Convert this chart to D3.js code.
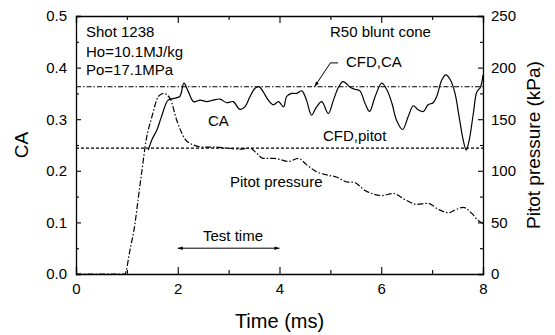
<!DOCTYPE html>
<html>
<head>
<meta charset="utf-8">
<script src="https://cdn.jsdelivr.net/npm/d3@7"></script>
<style>
  html, body { margin: 0; padding: 0; background: #fff; }
  svg { display: block; font-family: "Liberation Sans", Arial, sans-serif; }
</style>
</head>
<body>
<svg id="chart" width="555" height="335"></svg>
<script>
// Axial force coefficient (CA) measured during the shot
const caTime  = [1.42, 1.50, 1.59, 1.68, 1.81, 1.91, 2.04, 2.12, 2.21, 2.31, 2.44, 2.57, 2.70, 2.83, 2.96, 3.09, 3.22, 3.32, 3.42, 3.52, 3.60, 3.68, 3.78, 3.88, 3.98, 4.08, 4.14, 4.24, 4.34, 4.44, 4.53, 4.63, 4.73, 4.83, 4.96, 5.06, 5.16, 5.25, 5.39, 5.48, 5.58, 5.68, 5.77, 5.88, 6.01, 6.11, 6.21, 6.30, 6.42, 6.53, 6.63, 6.73, 6.83, 6.92, 7.02, 7.09, 7.19, 7.27, 7.36, 7.45, 7.53, 7.61, 7.67, 7.73, 7.81, 7.88, 7.95, 8.00];
const caValue = [0.240, 0.262, 0.279, 0.305, 0.337, 0.340, 0.344, 0.370, 0.353, 0.334, 0.337, 0.334, 0.337, 0.339, 0.332, 0.334, 0.319, 0.324, 0.344, 0.360, 0.363, 0.353, 0.337, 0.328, 0.334, 0.324, 0.344, 0.350, 0.350, 0.355, 0.337, 0.308, 0.324, 0.334, 0.311, 0.337, 0.362, 0.373, 0.362, 0.358, 0.355, 0.331, 0.315, 0.344, 0.370, 0.357, 0.331, 0.298, 0.280, 0.305, 0.326, 0.318, 0.315, 0.328, 0.332, 0.344, 0.376, 0.386, 0.376, 0.350, 0.305, 0.260, 0.240, 0.260, 0.311, 0.353, 0.362, 0.386];

// Measured pitot pressure (kPa)
const pitotTime  = [0.00, 0.50, 0.96, 1.06, 1.16, 1.22, 1.29, 1.38, 1.49, 1.62, 1.72, 1.85, 1.98, 2.14, 2.31, 2.50, 2.70, 2.96, 3.22, 3.42, 3.55, 3.68, 3.88, 4.01, 4.17, 4.37, 4.53, 4.73, 4.93, 5.12, 5.35, 5.45, 5.68, 6.01, 6.24, 6.47, 6.70, 6.92, 7.12, 7.32, 7.45, 7.61, 7.78, 7.91, 8.00];
const pitotValue = [0, 0, 0, 23, 49, 72, 98, 130, 152, 172, 175, 170, 149, 131, 125, 123, 123, 122, 121, 122, 117, 112, 112, 111, 109, 112, 106, 99, 96, 94, 89, 89, 81, 76, 78, 72, 67.5, 68.5, 62.7, 59.4, 62, 64.6, 58.8, 51.6, 49];

// CFD reference levels
const cfdCA = 0.363;
const cfdPitot = 122;

// Axis ticks
const timeTicks = [0, 2, 4, 6, 8];
const timeMinor = [1, 3, 5, 7];
const caTicks = [0.0, 0.1, 0.2, 0.3, 0.4, 0.5];
const caMinor = [0.05, 0.15, 0.25, 0.35, 0.45];
const pTicks = [0, 50, 100, 150, 200, 250];
const pMinor = [25, 75, 125, 175, 225];

// Test time window (ms)
const testWindow = [2, 4];

const svg = d3.select("#chart");
const margin = { top: 16, right: 72, bottom: 61, left: 76 };
const W = 555, H = 335;
const iw = W - margin.left - margin.right;
const ih = H - margin.top - margin.bottom;

const x = d3.scaleLinear().domain([0, 8]).range([margin.left, margin.left + iw]);
const yCA = d3.scaleLinear().domain([0, 0.5]).range([margin.top + ih, margin.top]);
const yP = d3.scaleLinear().domain([0, 250]).range([margin.top + ih, margin.top]);

const tickFont = "15px";

function styleAxis(g) {
  g.selectAll("path").attr("stroke", "#000").attr("stroke-width", 1.3);
  g.selectAll("line").attr("stroke", "#000").attr("stroke-width", 1.1);
  g.selectAll("text").attr("fill", "#000").style("font-size", tickFont)
    .style("font-family", '"Liberation Sans", Arial, sans-serif');
}

// Bottom axis
svg.append("g").attr("transform", `translate(0,${yCA(0)})`)
  .call(d3.axisBottom(x).tickValues(timeTicks).tickFormat(d3.format("d")).tickSize(-7).tickPadding(9))
  .call(styleAxis);
svg.append("g").attr("transform", `translate(0,${yCA(0)})`)
  .call(d3.axisBottom(x).tickValues(timeMinor).tickFormat("").tickSize(-4))
  .call(styleAxis).select("path").remove();

// Top axis (ticks only)
svg.append("g").attr("transform", `translate(0,${yCA(0.5)})`)
  .call(d3.axisTop(x).tickValues(timeTicks).tickFormat("").tickSize(-7))
  .call(styleAxis);
svg.append("g").attr("transform", `translate(0,${yCA(0.5)})`)
  .call(d3.axisTop(x).tickValues(timeMinor).tickFormat("").tickSize(-4))
  .call(styleAxis).select("path").remove();

// Left axis (CA)
svg.append("g").attr("transform", `translate(${x(0)},0)`)
  .call(d3.axisLeft(yCA).tickValues(caTicks).tickFormat(d3.format(".1f")).tickSize(-5).tickPadding(9))
  .call(styleAxis);
svg.append("g").attr("transform", `translate(${x(0)},0)`)
  .call(d3.axisLeft(yCA).tickValues(caMinor).tickFormat("").tickSize(-3))
  .call(styleAxis).select("path").remove();

// Right axis (pitot pressure)
svg.append("g").attr("transform", `translate(${x(8)},0)`)
  .call(d3.axisRight(yP).tickValues(pTicks).tickFormat(d3.format("d")).tickSize(-5).tickPadding(8))
  .call(styleAxis);
svg.append("g").attr("transform", `translate(${x(8)},0)`)
  .call(d3.axisRight(yP).tickValues(pMinor).tickFormat("").tickSize(-3))
  .call(styleAxis).select("path").remove();

// Axis titles
svg.append("text").attr("x", x(4)).attr("y", 328).attr("text-anchor", "middle")
  .style("font-size", "20px").text("Time (ms)");
svg.append("text").attr("transform", `translate(28,${(yCA(0) + yCA(0.5)) / 2}) rotate(-90)`)
  .attr("text-anchor", "middle").style("font-size", "19px").text("CA");
svg.append("text").attr("transform", `translate(540,${(yCA(0) + yCA(0.5)) / 2}) rotate(-90)`)
  .attr("text-anchor", "middle").style("font-size", "19px").text("Pitot pressure (kPa)");

// CFD reference lines
svg.append("line").attr("x1", x(0)).attr("x2", x(8)).attr("y1", yCA(cfdCA)).attr("y2", yCA(cfdCA))
  .attr("stroke", "#000").attr("stroke-width", 1.1).attr("stroke-dasharray", "5,2,1.5,2");
svg.append("line").attr("x1", x(0)).attr("x2", x(8)).attr("y1", yP(cfdPitot)).attr("y2", yP(cfdPitot))
  .attr("stroke", "#000").attr("stroke-width", 1.1).attr("stroke-dasharray", "3,2");

// Pitot pressure trace
const pitotLine = d3.line().x(d => x(d[0])).y(d => yP(d[1])).curve(d3.curveMonotoneX);
svg.append("path").datum(d3.zip(pitotTime, pitotValue)).attr("d", pitotLine)
  .attr("fill", "none").attr("stroke", "#000").attr("stroke-width", 1.2)
  .attr("stroke-dasharray", "6,2,1.5,2");

// CA trace
const caLine = d3.line().x(d => x(d[0])).y(d => yCA(d[1])).curve(d3.curveCatmullRom.alpha(0.5));
svg.append("path").datum(d3.zip(caTime, caValue)).attr("d", caLine)
  .attr("fill", "none").attr("stroke", "#000").attr("stroke-width", 1.2);

// Arrow markers
const defs = svg.append("defs");
defs.append("marker").attr("id", "arrowHead").attr("viewBox", "0 0 10 10")
  .attr("refX", 10).attr("refY", 5).attr("markerWidth", 7).attr("markerHeight", 5)
  .attr("orient", "auto-start-reverse").attr("markerUnits", "userSpaceOnUse")
  .append("path").attr("d", "M0,1.5 L10,5 L0,8.5 Z").attr("fill", "#000");

// Test time arrow
svg.append("line").attr("x1", x(testWindow[0])).attr("x2", x(testWindow[1]))
  .attr("y1", yCA(0.05)).attr("y2", yCA(0.05))
  .attr("stroke", "#000").attr("stroke-width", 1)
  .attr("marker-start", "url(#arrowHead)").attr("marker-end", "url(#arrowHead)");

// Leader line for the CFD,CA label
svg.append("polyline")
  .attr("points", `${x(5.15)},${yCA(0.413) + 2} ${x(5.0)},${yCA(0.413) + 2} ${x(4.69)},${yCA(cfdCA)}`)
  .attr("fill", "none").attr("stroke", "#000").attr("stroke-width", 1)
  .attr("marker-end", "url(#arrowHead)");

// Text annotations
const notes = [
  { t: "Shot 1238", px: 86, py: 37 },
  { t: "Ho=10.1MJ/kg", px: 86, py: 57 },
  { t: "Po=17.1MPa", px: 86, py: 75 },
  { t: "R50 blunt cone", px: 330, py: 37 },
  { t: "CFD,CA", px: 346, py: 67 },
  { t: "CA", px: 208, py: 126 },
  { t: "CFD,pitot", px: 323, py: 141 },
  { t: "Pitot pressure", px: 230, py: 187 },
  { t: "Test time", px: 203, py: 241 }
];
svg.selectAll("text.note").data(notes).enter().append("text").attr("class", "note")
  .attr("x", d => d.px).attr("y", d => d.py).style("font-size", "15px").text(d => d.t);
</script>
</body>
</html>
